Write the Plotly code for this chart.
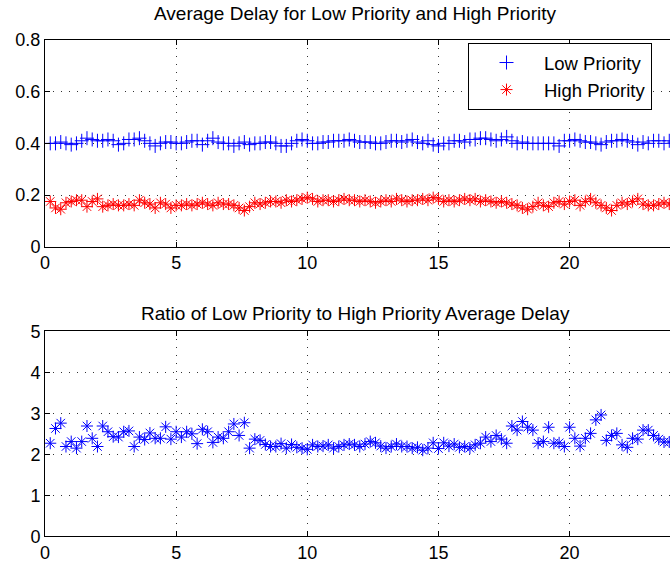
import plotly.graph_objects as go

# ---------------- data ----------------
x_step = 0.2
n_points = 120
x_values = [round(x_step * (i + 1), 4) for i in range(n_points)]

low_priority = [
    0.40, 0.40, 0.405, 0.40, 0.395, 0.40, 0.41, 0.42, 0.415, 0.41,
    0.41, 0.415, 0.41, 0.395, 0.40, 0.415, 0.415, 0.42, 0.41, 0.40,
    0.39, 0.40, 0.405, 0.405, 0.40, 0.40, 0.405, 0.41, 0.41, 0.395,
    0.41, 0.42, 0.405, 0.40, 0.40, 0.39, 0.40, 0.405, 0.395, 0.40,
    0.40, 0.405, 0.405, 0.40, 0.39, 0.39, 0.40, 0.41, 0.415, 0.41,
    0.40, 0.40, 0.405, 0.405, 0.41, 0.41, 0.41, 0.415, 0.41, 0.405,
    0.405, 0.405, 0.40, 0.40, 0.405, 0.41, 0.41, 0.405, 0.41, 0.415,
    0.405, 0.40, 0.41, 0.395, 0.39, 0.40, 0.40, 0.41, 0.41, 0.405,
    0.415, 0.415, 0.42, 0.42, 0.415, 0.41, 0.415, 0.425, 0.41, 0.40,
    0.405, 0.40, 0.40, 0.40, 0.40, 0.40, 0.40, 0.39, 0.41, 0.41,
    0.415, 0.41, 0.405, 0.405, 0.40, 0.395, 0.405, 0.41, 0.41, 0.415,
    0.41, 0.405, 0.395, 0.405, 0.40, 0.41, 0.41, 0.40, 0.41, 0.405,
]

high_priority = [
    0.175, 0.15, 0.145, 0.17, 0.175, 0.18, 0.18, 0.155, 0.175, 0.185,
    0.155, 0.16, 0.165, 0.16, 0.16, 0.165, 0.16, 0.18, 0.17, 0.165,
    0.15, 0.17, 0.165, 0.15, 0.16, 0.16, 0.165, 0.16, 0.165, 0.17,
    0.165, 0.16, 0.17, 0.165, 0.165, 0.16, 0.15, 0.14, 0.155, 0.17,
    0.165, 0.17, 0.175, 0.175, 0.17, 0.18, 0.175, 0.18, 0.185, 0.19,
    0.185, 0.175, 0.18, 0.18, 0.175, 0.18, 0.185, 0.18, 0.18, 0.175,
    0.18, 0.175, 0.17, 0.175, 0.18, 0.175, 0.185, 0.18, 0.175, 0.18,
    0.18, 0.185, 0.18, 0.19, 0.185, 0.175, 0.18, 0.175, 0.18, 0.185,
    0.18, 0.185, 0.175, 0.18, 0.175, 0.17, 0.175, 0.17, 0.165, 0.16,
    0.15, 0.145, 0.155, 0.17, 0.16, 0.155, 0.17, 0.175, 0.165, 0.175,
    0.18, 0.16, 0.175, 0.185, 0.17, 0.16, 0.15, 0.14, 0.16, 0.17,
    0.165, 0.175, 0.185, 0.165, 0.16, 0.16, 0.165, 0.17, 0.165, 0.16,
]

delay_ratio = [
    2.27, 2.63, 2.76, 2.19, 2.31, 2.15, 2.31, 2.69, 2.39, 2.19,
    2.69, 2.55, 2.43, 2.42, 2.55, 2.57, 2.19, 2.42, 2.36, 2.52,
    2.39, 2.39, 2.67, 2.37, 2.55, 2.42, 2.55, 2.50, 2.26, 2.61,
    2.55, 2.29, 2.42, 2.39, 2.55, 2.74, 2.46, 2.77, 2.15, 2.37,
    2.34, 2.24, 2.19, 2.19, 2.26, 2.15, 2.24, 2.17, 2.15, 2.12,
    2.23, 2.19, 2.20, 2.23, 2.15, 2.19, 2.23, 2.25, 2.23, 2.19,
    2.25, 2.31, 2.28, 2.20, 2.15, 2.19, 2.25, 2.19, 2.19, 2.15,
    2.17, 2.10, 2.15, 2.28, 2.14, 2.28, 2.20, 2.25, 2.17, 2.19,
    2.15, 2.23, 2.27, 2.42, 2.31, 2.46, 2.37, 2.27, 2.69, 2.59,
    2.80, 2.66, 2.59, 2.27, 2.31, 2.66, 2.27, 2.28, 2.19, 2.66,
    2.39, 2.20, 2.39, 2.51, 2.84, 2.96, 2.34, 2.46, 2.51, 2.23,
    2.17, 2.39, 2.37, 2.59, 2.59, 2.46, 2.37, 2.30, 2.30, 2.30,
]

x_ticks = [0, 5, 10, 15, 20]
top_y_ticks = [0, 0.2, 0.4, 0.6, 0.8]
top_y_labels = ["0", "0.2", "0.4", "0.6", "0.8"]
bottom_y_ticks = [0, 1, 2, 3, 4, 5]

top_title = "Average Delay for Low Priority and High Priority"
bottom_title = "Ratio of Low Priority to High Priority Average Delay"

# ---------------- figure ----------------
W, H = 670, 564
FONT = "Liberation Sans, Arial, Helvetica, sans-serif"
TICK_SIZE = 18
TITLE_SIZE = 19
LEGEND_SIZE = 18.5

fig = go.Figure()
fig.add_trace(go.Scatter(
    x=x_values, y=low_priority, mode="markers", name="Low Priority",
    marker=dict(symbol="cross-thin-open", size=10, color="#0000FF",
                line=dict(color="#0000FF", width=1)),
    xaxis="x", yaxis="y"))
fig.add_trace(go.Scatter(
    x=x_values, y=high_priority, mode="markers", name="High Priority",
    marker=dict(symbol="asterisk-open", size=10, color="#FF0000",
                line=dict(color="#FF0000", width=1)),
    xaxis="x", yaxis="y"))
fig.add_trace(go.Scatter(
    x=x_values, y=delay_ratio, mode="markers", name="Ratio", showlegend=False,
    marker=dict(symbol="asterisk-open", size=10, color="#0000FF",
                line=dict(color="#0000FF", width=1)),
    xaxis="x2", yaxis="y2"))

x_left = 45
x_max = (W - x_left) / 26.23
top_dom = [1 - 246.7 / H, 1 - 40 / H]
bot_dom = [1 - 536.3 / H, 1 - 331.3 / H]

axis_common = dict(
    showline=True, linecolor="black", linewidth=1,
    ticks="inside", ticklen=5, tickcolor="black", tickwidth=1,
    showgrid=True, gridcolor="#333333", griddash="1px,7px", gridwidth=1,
    zeroline=False, tickfont=dict(family=FONT, size=TICK_SIZE, color="black"),
    automargin=False,
)

fig.update_layout(
    width=W, height=H,
    margin=dict(l=0, r=0, t=0, b=0),
    paper_bgcolor="white", plot_bgcolor="white",
    font=dict(family=FONT, size=TICK_SIZE, color="black"),
    xaxis=dict(axis_common, domain=[x_left / W, 1], range=[0, x_max],
               tickvals=x_ticks, mirror="ticks", anchor="y"),
    yaxis=dict(axis_common, domain=top_dom, range=[0, 0.8],
               tickvals=top_y_ticks, ticktext=top_y_labels, anchor="x"),
    xaxis2=dict(axis_common, domain=[x_left / W, 1], range=[0, x_max],
                tickvals=x_ticks, mirror="ticks", anchor="y2"),
    yaxis2=dict(axis_common, domain=bot_dom, range=[0, 5],
                tickvals=bottom_y_ticks, anchor="x2"),
    showlegend=True,
    legend=dict(
        x=652 / W, y=1 - 43 / H, xanchor="right", yanchor="top",
        bordercolor="black", borderwidth=1, bgcolor="white",
        font=dict(family=FONT, size=LEGEND_SIZE, color="black"),
        itemwidth=65, tracegroupgap=0,
    ),
    annotations=[
        dict(text=top_title, x=355 / W, y=1 - 13 / H, xref="paper", yref="paper",
             showarrow=False, font=dict(family=FONT, size=TITLE_SIZE),
             xanchor="center", yanchor="middle"),
        dict(text=bottom_title, x=355 / W, y=1 - 313 / H, xref="paper", yref="paper",
             showarrow=False, font=dict(family=FONT, size=TITLE_SIZE),
             xanchor="center", yanchor="middle"),
    ],
)

fig.write_html("out.html")
